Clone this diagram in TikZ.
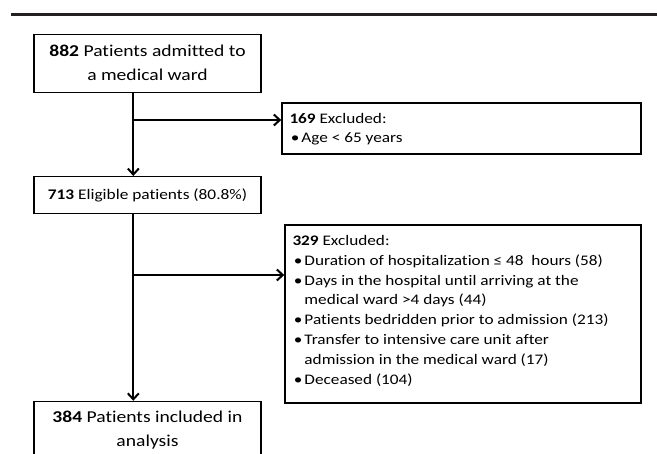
\documentclass[tikz,border=0pt]{standalone}
\usepackage{fontspec}
\setmainfont{Carlito}[FakeStretch=1.18, RawFeature={-liga;-clig;-calt;-dlig}]
\usetikzlibrary{arrows.meta}
\definecolor{rulegray}{HTML}{231F20}
\newcommand{\bul}{\hspace{1pt}\textbullet}
\newcommand{\exsize}{\fontsize{10pt}{13.6pt}\selectfont}

\begin{document}
\begin{tikzpicture}[x=1pt, y=-1pt,
    box/.style={draw, line width=1.4pt, inner sep=0pt, align=flush center},
    exbox/.style={draw, line width=1.4pt, inner sep=0pt},
    extext/.style={anchor=base west, inner sep=0pt},
    bigfont/.style={font=\fontsize{16.6pt}{24pt}\selectfont},
    midfont/.style={font=\fontsize{14.7pt}{18pt}\selectfont},
    arr/.style={line width=2pt, -{Straight Barb[length=6pt, width=11pt, line width=2pt]}}]
    \path[use as bounding box, clip] (0,0) rectangle (657,454);
    \draw[line width=2.4pt, rulegray] (11,14.7) -- (657,14.7);
    \node[box, bigfont, minimum width=227pt, minimum height=58pt, text width=227pt] (admit) at (147.5,63.3)
        {\textbf{882} Patients admitted to\\ a medical ward};
    \node[exbox, minimum width=359pt, minimum height=51pt] (excla) at (461.5,128.5) {};
    \node[extext] (excla text) at ([shift={(8,21.7)}]excla.north west)
        {\scalebox{1.46}{\exsize\begin{tabular}[t]{@{}p{8.2pt}@{}l@{}}
         \multicolumn{2}{@{}l@{}}{\textbf{169} Excluded:}\\[-1pt]
         \bul & Age < 65 years
         \end{tabular}}};
    \node[box, midfont, minimum width=227pt, minimum height=36.6pt, text width=227pt] (elig) at (147.5,195)
        {\textbf{713} Eligible patients (80.8\%)};
    \node[exbox, minimum width=356pt, minimum height=178pt] (exclb) at (463,314) {};
    \node[extext] (exclb text) at ([shift={(8,21)}]exclb.north west)
        {\scalebox{1.46}{\exsize\begin{tabular}[t]{@{}p{8.2pt}@{}l@{}}
         \multicolumn{2}{@{}l@{}}{\textbf{329} Excluded:}\\
         \bul & Duration of hospitalization ≤ 48\ \ hours (58)\\
         \bul & Days in the hospital until arriving at the\\
              & medical ward >4 days (44)\\
         \bul & Patients bedridden prior to admission (213)\\
         \bul & Transfer to intensive care unit after\\
              & admission in the medical ward (17)\\
         \bul & Deceased (104)
         \end{tabular}}};
    \node[box, bigfont, minimum width=227pt, minimum height=58pt, text width=227pt] (incl) at (147.5,430.5)
        {\textbf{384} Patients included in\\ analysis};
    \coordinate (spine) at (133.3,0);
    \coordinate (ba) at (133.3,120);
    \coordinate (bb) at (133.3,275);
    \draw[arr] (admit.south -| spine) -- (elig.north -| spine);
    \draw[arr] (ba) -- (ba -| excla.west);
    \draw[arr] (elig.south -| spine) -- (incl.north -| spine);
    \draw[arr] (bb) -- (bb -| exclb.west);
\end{tikzpicture}
\end{document}
